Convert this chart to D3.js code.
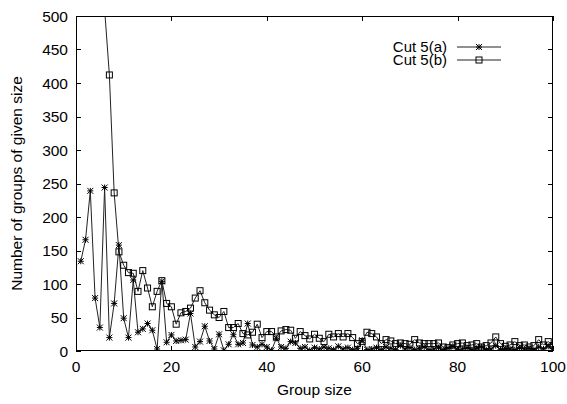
<!DOCTYPE html>
<html>
<head>
<meta charset="utf-8">
<script src="https://cdn.jsdelivr.net/npm/d3@7"></script>
<style>
  html, body { margin: 0; padding: 0; background: #fff; }
  svg { display: block; }
  text { font-family: "Liberation Sans", Arial, Helvetica, sans-serif; font-size: 15.5px; fill: #000; }
</style>
</head>
<body>
<svg id="chart" width="567" height="404"></svg>
<script>
// ---- data ----
const groupSizes = d3.range(1, 101);
const cut5a = [134,166,239,79,35,244,20,71,158,49,
               20,106,28,33,41,31,3,104,13,24,
               15,16,17,56,6,14,37,15,3,25,
               1,10,25,10,12,41,9,6,10,6,
               1,19,6,4,14,12,4,6,1,5,
               3,6,4,2,7,3,5,2,4,16,
               2,3,5,2,6,4,2,8,3,5,
               2,4,6,2,3,5,2,4,7,2,
               3,5,2,4,6,2,3,8,2,4,
               3,2,5,3,4,2,6,3,7,4];
const cut5b = [4800,3200,2100,1400,900,510,412,236,148,128,
               117,116,89,120,94,66,89,105,71,66,
               40,57,59,64,79,90,72,61,54,50,
               59,35,35,41,26,24,28,40,20,29,
               29,21,30,32,31,19,29,23,18,25,
               19,14,25,21,26,21,26,20,11,14,
               28,26,21,11,17,15,11,12,11,10,
               17,12,11,11,11,12,6,5,9,11,
               12,8,9,11,6,8,12,21,11,7,
               9,14,8,9,6,8,17,9,14,8];
const seriesNames = ["Cut 5(a)", "Cut 5(b)"];
const xTicks = [0, 20, 40, 60, 80, 100];
const yTicks = [0, 50, 100, 150, 200, 250, 300, 350, 400, 450, 500];
const xTitle = "Group size";
const yTitle = "Number of groups of given size";

// ---- layout ----
const svg = d3.select("#chart");
const L = 76, R = 553, T = 16, B = 351;
const x = d3.scaleLinear().domain([0, 100]).range([L, R]);
const y = d3.scaleLinear().domain([0, 500]).range([B, T]);
const tickLen = 5;

svg.append("defs").append("clipPath").attr("id", "plotclip")
  .append("rect").attr("x", L).attr("y", T).attr("width", R - L).attr("height", B - T);

// ticks (inward, mirrored)
const tg = svg.append("g").attr("stroke", "#000").attr("stroke-width", 1);
xTicks.forEach(v => {
  const px = Math.round(x(v)) + 0.5;
  tg.append("line").attr("x1", px).attr("x2", px).attr("y1", B).attr("y2", B - tickLen);
  tg.append("line").attr("x1", px).attr("x2", px).attr("y1", T).attr("y2", T + tickLen);
});
yTicks.forEach(v => {
  const py = Math.round(y(v)) + 0.5;
  tg.append("line").attr("x1", L).attr("x2", L + tickLen).attr("y1", py).attr("y2", py);
  tg.append("line").attr("x1", R).attr("x2", R - tickLen).attr("y1", py).attr("y2", py);
});

// tick labels
svg.append("g").selectAll("text").data(xTicks).join("text")
  .attr("x", d => x(d)).attr("y", B + 21).attr("text-anchor", "middle").text(d => d);
svg.append("g").selectAll("text").data(yTicks).join("text")
  .attr("x", L - 8).attr("y", d => y(d) + 5.5).attr("text-anchor", "end").text(d => d);

// titles
svg.append("text").attr("x", (L + R) / 2).attr("y", 395).attr("text-anchor", "middle").text(xTitle);
svg.append("text").attr("transform", `translate(22,${(T + B) / 2}) rotate(-90)`)
  .attr("text-anchor", "middle").text(yTitle);

// series
const dataA = groupSizes.map((g, i) => ({ x: g, y: cut5a[i] }));
const dataB = groupSizes.map((g, i) => ({ x: g, y: cut5b[i] }));
const line = d3.line().x(d => x(d.x)).y(d => y(d.y));
const plot = svg.append("g").attr("clip-path", "url(#plotclip)");

const lineColor = "#222";
plot.append("path").datum(dataA).attr("d", line)
  .attr("fill", "none").attr("stroke", lineColor).attr("stroke-width", 1);
plot.append("path").datum(dataB).attr("d", line)
  .attr("fill", "none").attr("stroke", lineColor).attr("stroke-width", 1);

const s = 3;
function star(g, cx, cy) {
  g.append("path")
    .attr("d", `M${cx - s},${cy}H${cx + s}M${cx},${cy - s}V${cy + s}M${cx - s},${cy - s}L${cx + s},${cy + s}M${cx - s},${cy + s}L${cx + s},${cy - s}`)
    .attr("stroke", "#000").attr("stroke-width", 1).attr("fill", "none");
}
function square(g, cx, cy) {
  g.append("rect").attr("x", cx - s).attr("y", cy - s).attr("width", 2 * s).attr("height", 2 * s)
    .attr("stroke", "#000").attr("stroke-width", 1).attr("fill", "none");
}
const mA = plot.append("g"), mB = plot.append("g");
dataA.filter(d => d.y <= 500).forEach(d => star(mA, x(d.x), y(d.y)));
dataB.filter(d => d.y <= 500).forEach(d => square(mB, x(d.x), y(d.y)));

// frame
svg.append("rect").attr("x", L + 0.5).attr("y", T + 0.5).attr("width", R - L - 1).attr("height", B - T - 1)
  .attr("fill", "none").attr("stroke", "#000").attr("stroke-width", 1);

// legend
const legY = [47, 60];
const lg = svg.append("g");
seriesNames.forEach((name, i) => {
  lg.append("text").attr("x", 447).attr("y", legY[i] + 5).attr("text-anchor", "end")
    .style("font-size", "15px").text(name);
  lg.append("line").attr("x1", 457).attr("x2", 501).attr("y1", legY[i]).attr("y2", legY[i])
    .attr("stroke", lineColor).attr("stroke-width", 1);
  if (i === 0) star(lg, 479, legY[i]); else square(lg, 479, legY[i]);
});
</script>
</body>
</html>
